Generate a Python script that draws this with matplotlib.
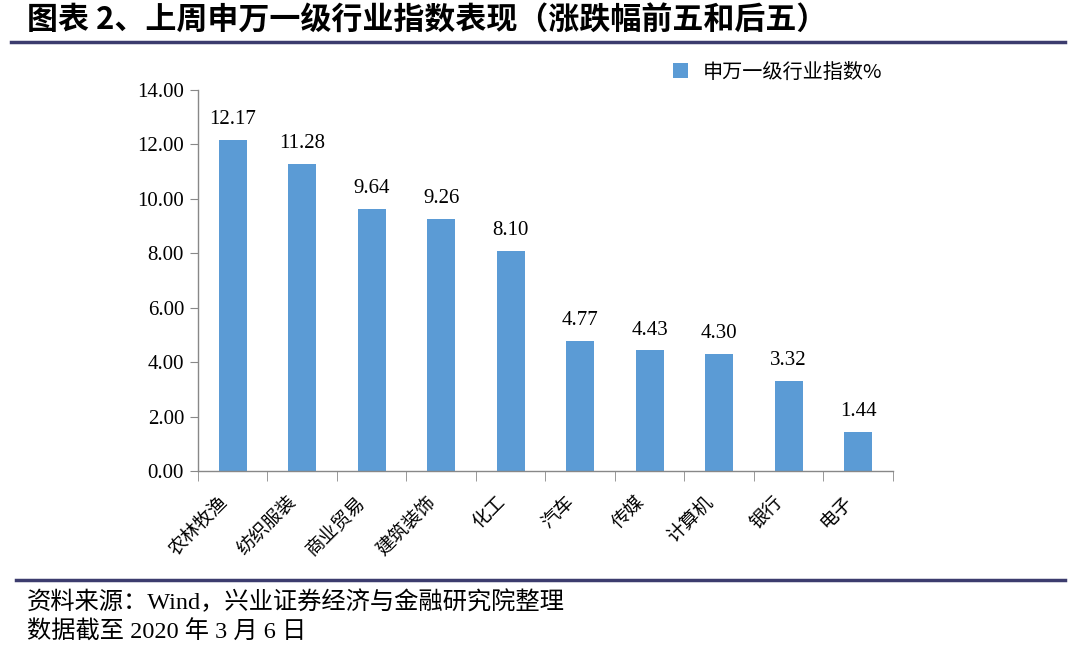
import numpy as np
import matplotlib
matplotlib.use('Agg')
import matplotlib.pyplot as plt
import matplotlib.transforms as mtransforms
from matplotlib.lines import Line2D

plt.rcParams['font.family'] = ['Liberation Serif', 'Noto Sans CJK SC', 'DejaVu Sans']

industries = ['农林牧渔', '纺织服装', '商业贸易', '建筑装饰', '化工',
              '汽车', '传媒', '计算机', '银行', '电子']
values = [12.17, 11.28, 9.64, 9.26, 8.10, 4.77, 4.43, 4.30, 3.32, 1.44]
series_name = '申万一级行业指数%'
yticks = np.arange(0, 14.01, 2)

bar_color = '#5B9BD5'
axis_color = '#888888'
rule_color = '#3c3c6e'
mixed = ['Liberation Serif', 'Noto Sans CJK SC']

fig = plt.figure(figsize=(10.8, 6.5), dpi=100)
ax = fig.add_axes([0.1833, 0.2754, 0.6435, 0.5861])

x = np.arange(len(industries))
ax.bar(x, values, width=0.40, color=bar_color, label=series_name, zorder=2)
for xi, v in zip(x, values):
    ax.text(xi, v + 0.4, '%.2f' % v, ha='center', va='bottom', fontsize=15,
            family=['Liberation Serif'])

ax.set_xlim(-0.5, len(industries) - 0.5)
ax.set_ylim(0, 14)
ax.set_yticks(yticks)
ax.set_yticklabels(['%.2f' % t for t in yticks], fontsize=15, family=['Liberation Serif'])
ax.set_xticks(x)
ax.set_xticklabels(industries, rotation=45, ha='right', va='top', fontsize=13.5,
                   family=['Noto Sans CJK SC'], rotation_mode='anchor')
ax.tick_params(axis='x', length=0, pad=15)
# nudge the slanted labels a little to the left, as in the source
shift = mtransforms.ScaledTranslation(-16 / 100, 0, fig.dpi_scale_trans)
for lab in ax.get_xticklabels():
    lab.set_transform(lab.get_transform() + shift)
ax.set_xticks(np.arange(-0.5, len(industries), 1), minor=True)
ax.tick_params(axis='x', which='minor', length=7, color=axis_color, direction='out')
ax.tick_params(axis='y', length=6, color=axis_color, direction='out', pad=4)

for s in ['top', 'right']:
    ax.spines[s].set_visible(False)
for s in ['left', 'bottom']:
    ax.spines[s].set_color(axis_color)
    ax.spines[s].set_linewidth(1.0)

ax.legend(loc='center left', bbox_to_anchor=(0.658, 1.047), frameon=False,
          prop={'family': ['Noto Sans CJK SC'], 'size': 14.5},
          handlelength=0.75, handleheight=0.75, handletextpad=0.7)

fig.text(0.025, 0.968, '图表 2、上周申万一级行业指数表现（涨跌幅前五和后五）',
         fontsize=22.3, fontweight='bold', family=['Noto Sans CJK SC'], va='center')
fig.add_artist(Line2D([0.010, 0.986], [0.935, 0.935], color=rule_color, linewidth=2.5))
fig.add_artist(Line2D([0.015, 0.986], [0.108, 0.108], color=rule_color, linewidth=2.5))
fig.text(0.025, 0.074, '资料来源：Wind，兴业证券经济与金融研究院整理', fontsize=17.5,
         family=mixed, va='center')
fig.text(0.025, 0.027, '数据截至 2020 年 3 月 6 日', fontsize=17.5,
         family=mixed, va='center')

fig.savefig('out.png', dpi=100)
